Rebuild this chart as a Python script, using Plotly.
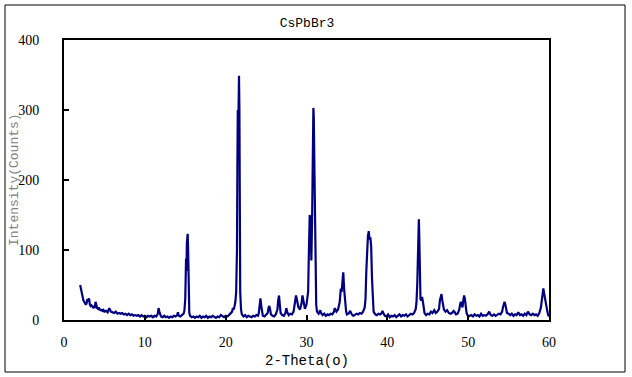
import plotly.graph_objects as go

two_theta = [
    2.0, 2.1, 2.2, 2.3, 2.4, 2.5, 2.6, 2.7, 2.8, 2.9, 3.0, 3.1, 3.2, 3.3, 3.4, 3.5, 3.6, 3.7, 3.8, 3.9,
    4.0, 4.1, 4.2, 4.3, 4.4, 4.5, 4.6, 4.7, 4.8, 4.9, 5.0, 5.2, 5.4, 5.6, 5.8, 6.0, 6.2, 6.4, 6.6, 6.8,
    7.0, 7.2, 7.4, 7.6, 7.8, 8.0, 8.2, 8.4, 8.6, 8.8, 9.0, 9.2, 9.4, 9.6, 9.8, 10.0, 10.2, 10.4, 10.6, 10.8,
    11.0, 11.2, 11.4, 11.6, 11.7, 11.8, 11.9, 12.0, 12.2, 12.4, 12.6, 12.8, 13.0, 13.2, 13.4, 13.6, 13.8, 14.0, 14.1, 14.2,
    14.4, 14.6, 14.8, 14.9, 15.0, 15.1, 15.15, 15.2, 15.3, 15.35, 15.4, 15.5, 15.6, 15.8, 16.0, 16.2, 16.4, 16.6, 16.8, 17.0,
    17.2, 17.4, 17.6, 17.8, 18.0, 18.2, 18.4, 18.6, 18.8, 19.0, 19.2, 19.4, 19.6, 19.8, 20.0, 20.2, 20.4, 20.6, 20.8, 20.9,
    21.0, 21.1, 21.2, 21.3, 21.4, 21.45, 21.5, 21.55, 21.6, 21.65, 21.7, 21.75, 21.8, 21.9, 22.0, 22.2, 22.4, 22.6, 22.8, 23.0,
    23.2, 23.4, 23.6, 23.8, 24.0, 24.1, 24.2, 24.3, 24.4, 24.5, 24.6, 24.8, 25.0, 25.2, 25.3, 25.4, 25.5, 25.6, 25.8, 26.0,
    26.2, 26.4, 26.5, 26.6, 26.7, 26.8, 27.0, 27.2, 27.4, 27.5, 27.6, 27.8, 28.0, 28.2, 28.4, 28.6, 28.7, 28.8, 28.9, 29.0,
    29.2, 29.4, 29.5, 29.6, 29.7, 29.8, 30.0, 30.2, 30.3, 30.4, 30.5, 30.6, 30.7, 30.8, 30.85, 30.9, 31.0, 31.1, 31.2, 31.3,
    31.5, 31.7, 31.8, 32.0, 32.2, 32.4, 32.6, 32.8, 33.0, 33.2, 33.4, 33.5, 33.7, 33.9, 34.1, 34.25, 34.35, 34.45, 34.55, 34.65,
    34.8, 34.9, 35.0, 35.2, 35.4, 35.6, 35.8, 36.0, 36.2, 36.4, 36.6, 36.8, 37.0, 37.2, 37.3, 37.4, 37.5, 37.6, 37.7, 37.8,
    37.9, 38.0, 38.1, 38.2, 38.3, 38.5, 38.7, 38.9, 39.1, 39.3, 39.4, 39.5, 39.7, 39.9, 40.1, 40.3, 40.5, 40.7, 40.9, 41.1,
    41.3, 41.5, 41.7, 41.9, 42.1, 42.3, 42.5, 42.7, 42.9, 43.1, 43.3, 43.5, 43.6, 43.7, 43.8, 43.9, 43.95, 44.0, 44.1, 44.2,
    44.3, 44.4, 44.5, 44.6, 44.8, 45.0, 45.2, 45.4, 45.6, 45.8, 45.9, 46.0, 46.2, 46.4, 46.5, 46.6, 46.7, 46.8, 46.9, 47.0,
    47.2, 47.4, 47.6, 47.8, 48.0, 48.2, 48.3, 48.5, 48.7, 48.9, 49.0, 49.1, 49.2, 49.3, 49.4, 49.5, 49.6, 49.7, 49.8, 50.0,
    50.2, 50.4, 50.6, 50.8, 51.0, 51.2, 51.4, 51.6, 51.8, 52.0, 52.2, 52.4, 52.6, 52.8, 53.0, 53.2, 53.4, 53.6, 53.8, 54.0,
    54.2, 54.3, 54.4, 54.5, 54.6, 54.7, 54.8, 55.0, 55.2, 55.4, 55.6, 55.8, 56.0, 56.2, 56.4, 56.6, 56.8, 57.0, 57.2, 57.4,
    57.6, 57.8, 58.0, 58.2, 58.4, 58.6, 58.8, 59.0, 59.1, 59.2, 59.3, 59.4, 59.5, 59.6, 59.7, 59.8, 59.9, 60.0,
]

intensity = [
    50, 44, 37, 32, 28, 26, 24, 22, 24, 30, 26, 31, 22, 20, 21, 19, 18, 20, 17, 26,
    20, 17, 16, 18, 14, 16, 13, 15, 12, 14, 12, 13, 11, 17, 12, 11, 10, 12, 9, 10,
    9, 10, 8, 9, 7, 9, 7, 8, 6, 7, 6, 7, 5, 7, 5, 6, 4, 6, 5, 6,
    4, 6, 5, 9, 17, 12, 6, 5, 4, 6, 4, 5, 3, 5, 4, 6, 5, 7, 11, 6,
    5, 7, 9, 14, 30, 88, 70, 110, 123, 105, 40, 10, 6, 4, 5, 3, 5, 4, 6, 3,
    5, 4, 6, 3, 5, 4, 6, 5, 3, 5, 4, 7, 5, 4, 6, 5, 7, 9, 12, 17,
    15, 20, 26, 40, 100, 220, 300, 250, 305, 349, 300, 100, 40, 15, 8, 5, 7, 4, 6, 5,
    4, 6, 5, 7, 6, 10, 22, 31, 20, 9, 6, 5, 7, 10, 17, 20, 15, 8, 6, 5,
    8, 15, 28, 35, 22, 10, 7, 6, 10, 17, 12, 7, 9, 8, 12, 25, 35, 30, 20, 18,
    15, 25, 35, 28, 18, 16, 22, 40, 100, 150, 140, 85, 150, 280, 303, 290, 200, 60, 22, 12,
    9, 14, 10, 7, 9, 6, 8, 7, 9, 8, 12, 17, 12, 15, 25, 45, 40, 55, 68, 45,
    20, 12, 8, 9, 13, 8, 6, 7, 9, 8, 10, 9, 12, 18, 30, 70, 100, 120, 127, 115,
    118, 105, 60, 25, 12, 8, 7, 9, 8, 10, 13, 10, 6, 5, 8, 4, 6, 5, 7, 4,
    6, 8, 5, 7, 6, 8, 5, 7, 9, 8, 10, 15, 24, 50, 110, 144, 120, 60, 30, 28,
    33, 26, 15, 10, 7, 9, 8, 12, 10, 14, 12, 10, 12, 16, 28, 33, 37, 28, 20, 15,
    12, 14, 10, 9, 10, 13, 12, 8, 9, 15, 22, 26, 22, 18, 28, 35, 30, 20, 10, 5,
    6, 7, 5, 8, 6, 7, 5, 9, 6, 7, 6, 8, 12, 7, 6, 8, 6, 7, 9, 8,
    12, 18, 23, 26, 22, 15, 10, 9, 7, 9, 6, 8, 7, 11, 7, 8, 6, 9, 7, 12,
    8, 7, 9, 7, 8, 6, 10, 18, 30, 38, 45, 38, 30, 22, 17, 12, 7, 5,
]

x_ticks = [0, 10, 20, 30, 40, 50, 60]
y_ticks = [0, 100, 200, 300, 400]

fig = go.Figure()
fig.add_trace(go.Scatter(
    x=two_theta, y=intensity, mode="lines",
    line=dict(color="#000080", width=2.2),
    showlegend=False, hoverinfo="skip",
))

tick_font = dict(family="Liberation Serif", size=14, color="black")

fig.update_layout(
    width=632, height=377,
    margin=dict(l=64, r=83, t=40, b=57),
    paper_bgcolor="white", plot_bgcolor="white",
    title=dict(text="CsPbBr3", x=(307 / 632), xanchor="center", y=1 - 22 / 377, yanchor="middle",
               font=dict(family="Liberation Mono", size=13, color="black")),
    xaxis=dict(
        range=[0, 60], tickvals=x_ticks, ticks="inside", ticklen=5, tickwidth=1.5, tickcolor="black",
        showline=True, linewidth=2, linecolor="black", mirror=True, showgrid=False, zeroline=False,
        tickfont=tick_font, ticklabelstandoff=8, automargin=False,
    ),
    yaxis=dict(
        range=[0, 400], tickvals=y_ticks, ticks="inside", ticklen=5, tickwidth=1.5, tickcolor="black",
        showline=True, linewidth=2, linecolor="black", mirror=True, showgrid=False, zeroline=False,
        tickfont=tick_font, ticklabelstandoff=20, automargin=False,
    ),
    annotations=[
        dict(text="2-Theta(o)", xref="paper", yref="paper", x=0.5, y=-(361 - 320) / 280,
             xanchor="center", yanchor="middle", showarrow=False,
             font=dict(family="Liberation Mono", size=14, color="black")),
        dict(text="Intensity(Counts)", xref="paper", yref="paper", x=-(64 - 14) / 485, y=0.5,
             xanchor="center", yanchor="middle", textangle=-90, showarrow=False,
             font=dict(family="Liberation Mono", size=13, color="#808080")),
    ],
    shapes=[dict(type="rect", xref="paper", yref="paper",
                 x0=(5 - 64) / 485, x1=(625 - 64) / 485, y0=(320 - 372) / 280, y1=(320 - 5) / 280,
                 line=dict(color="black", width=1), fillcolor="rgba(0,0,0,0)", layer="below")],
)

fig.write_html("out.html")
